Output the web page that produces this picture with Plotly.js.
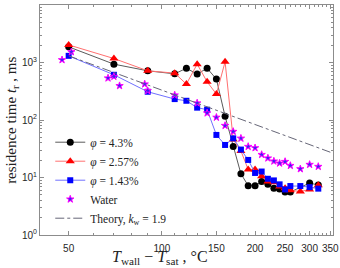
<!DOCTYPE html>
<html>
<head>
<meta charset="utf-8">
<script src="https://cdn.plot.ly/plotly-3.0.1.min.js"></script>
<style>html,body{margin:0;padding:0;background:#fff;}#chart{width:340px;height:268px;}</style>
</head>
<body>
<div id="chart"></div>
<script>
// ---- data ----
var xPhi43  = [50, 70, 90, 110, 120, 130, 140, 150, 160, 170, 180, 190, 200, 210, 220, 230, 240, 250, 260, 300, 320];
var yPhi43  = [1870, 936, 717, 635, 794, 630, 794, 514, 116, 34.5, 11.6, 7.2, 7.2, 8.5, 7.6, 6.5, 6.3, 5.6, 5.6, 8.0, 7.4];

var xPhi257 = [50, 70, 90, 110, 120, 130, 140, 150, 160, 170, 180, 190, 200, 210, 220, 230, 240, 250, 260, 280, 300, 320];
var yPhi257 = [2023, 1173, 717, 653, 421, 936, 462, 282, 1027, 46, 29, 13.8, 13.8, 10.5, 8.5, 8.3, 7.0, 6.5, 6.0, 5.7, 6.2, 7.3];

var xPhi143 = [50, 70, 90, 110, 120, 130, 140, 150, 160, 170, 180, 190, 200, 210, 220, 230, 240, 250, 260, 280, 300, 320];
var yPhi143 = [1306, 611, 310, 231, 216, 164, 151, 55, 36.8, 48, 30.6, 20.2, 12.0, 12.7, 9.5, 8.9, 7.6, 6.2, 7.1, 7.1, 6.8, 6.4];

var xWater  = [47.6, 51, 67, 70, 73, 88, 90, 110, 130, 140, 150, 160, 170, 180, 190, 200, 210, 220, 230, 240, 250, 260, 280, 300, 320];
var yWater  = [1112, 1531, 535, 571, 394, 421, 323, 271, 197, 132, 111, 80, 63, 48, 34.5, 32.7, 25, 21.7, 19.2, 17.7, 18.9, 16.1, 14.1, 16.8, 15.5];

var xTheory = [50, 350];
var yTheory = [1306, 27.5];

var xTickVals = [50, 100, 150, 200, 250, 300, 350];
var xTickText = ['50', '100', '150', '200', '250', '300', '350'];
var yTickVals = [1, 10, 100, 1000, 10000];
var yTickText = ['10<sup>0</sup>', '10<sup>1</sup>', '10<sup>2</sup>', '10<sup>3</sup>', '10<sup>4</sup>'];

// minor tick positions
var xMinor = [];
for (var v = 40; v <= 360; v += 10) { if (v % 50 !== 0) xMinor.push(v); }
var yMinor = [];
[1, 10, 100, 1000].forEach(function (d) { for (var k = 2; k <= 9; k++) yMinor.push(k * d); });

var serif = '"Liberation Serif", "Times New Roman", serif';

var traces = [
  {x: xPhi43, y: yPhi43, name: '<i>φ</i> = 4.3%', mode: 'lines+markers',
   line: {color: '#5a5a5a', width: 1}, marker: {symbol: 'circle', size: 7, color: '#000'}},
  {x: xPhi257, y: yPhi257, name: '<i>φ</i> = 2.57%', mode: 'lines+markers',
   line: {color: '#ff7070', width: 1}, marker: {symbol: 'triangle-up', size: 8, color: '#ff0000'}},
  {x: xPhi143, y: yPhi143, name: '<i>φ</i> = 1.43%', mode: 'lines+markers',
   line: {color: '#7070ff', width: 1}, marker: {symbol: 'square', size: 6, color: '#0000ff'}},
  {x: xWater, y: yWater, name: 'Water', mode: 'markers',
   marker: {symbol: 'star', size: 5.5, color: '#3a22f5', line: {color: '#ff00ff', width: 1}}},
  {x: xTheory, y: yTheory, name: 'Theory, <i>k</i><sub>w</sub> = 1.9', mode: 'lines',
   line: {color: '#666677', width: 1, dash: 'dashdot'}}
];

var axisCommon = {
  type: 'log', showline: true, linecolor: '#8c8c8c', linewidth: 1, mirror: 'ticks',
  ticks: 'inside', ticklen: 4, tickcolor: '#8c8c8c', showgrid: false, zeroline: false,
  tickfont: {family: '"Liberation Sans", Arial, sans-serif', size: 10, color: '#262626'}
};

var layout = {
  width: 340, height: 268,
  margin: {l: 40, r: 7, t: 5, b: 33},
  paper_bgcolor: '#fff', plot_bgcolor: '#fff',
  showlegend: true,
  xaxis: Object.assign({}, axisCommon, {
    range: [Math.log10(40.4), Math.log10(357)],
    tickmode: 'array', tickvals: xTickVals, ticktext: xTickText,
    ticklabelstandoff: 4,
    minor: {tickvals: xMinor, ticks: 'inside', ticklen: 2, tickcolor: '#8c8c8c'}
  }),
  yaxis: Object.assign({}, axisCommon, {
    range: [0, 4],
    tickmode: 'array', tickvals: yTickVals, ticktext: yTickText,
    minor: {tickvals: yMinor, ticks: 'inside', ticklen: 2, tickcolor: '#8c8c8c'}
  }),
  legend: {
    x: 0.035, y: 0.01, xanchor: 'left', yanchor: 'bottom',
    bgcolor: 'rgba(255,255,255,0)', borderwidth: 0,
    font: {family: serif, size: 11.5, color: '#222'},
    tracegroupgap: 0, itemwidth: 30
  },
  annotations: [
    {xref: 'paper', yref: 'paper', x: 0.41, y: -0.097, xanchor: 'center', yanchor: 'middle', showarrow: false,
     text: '<i>T</i><sub>wall</sub> − <i>T</i><sub>sat</sub> , °C', font: {family: serif, size: 16, color: '#222'}},
    {xref: 'paper', yref: 'paper', x: -0.096, y: 0.5, xanchor: 'center', yanchor: 'middle', showarrow: false,
     textangle: -90, text: 'residence time <i>t</i><sub>r</sub> , ms', font: {family: serif, size: 15, color: '#222'}}
  ]
};

Plotly.newPlot('chart', traces, layout, {displayModeBar: false, staticPlot: true});
</script>
</body>
</html>
